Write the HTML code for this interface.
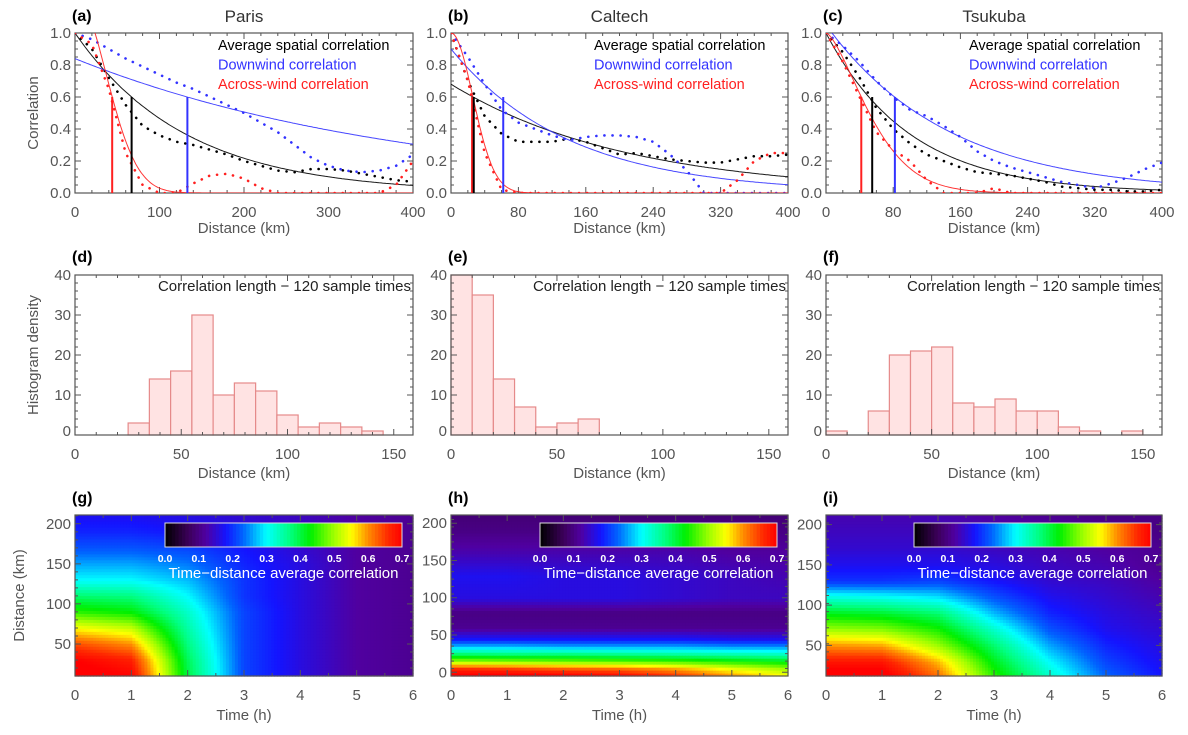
<!DOCTYPE html>
<html><head><meta charset="utf-8"><style>
body{margin:0;background:#fff}
svg{display:block;font-family:"Liberation Sans",sans-serif}
</style></head><body>
<svg id="fig" width="1188" height="735" viewBox="0 0 1188 735" xmlns="http://www.w3.org/2000/svg"></svg>
<script>
// ---------- DATA ----------
const cities = ["Paris","Caltech","Tsukuba"];
const corrDist = [0,20,40,60,80,100,120,140,160,180,200,220,240,260,280,300,320,340,360,380,400];
const avgDotParis  = [1.0,0.9,0.72,0.55,0.42,0.36,0.32,0.3,0.27,0.24,0.2,0.17,0.14,0.13,0.15,0.15,0.14,0.12,0.1,0.08,0.07];
const downDotParis = [1.0,0.96,0.9,0.84,0.79,0.74,0.69,0.65,0.6,0.55,0.5,0.44,0.38,0.3,0.22,0.17,0.14,0.13,0.14,0.17,0.24];
const acrDotParis  = [1.0,0.93,0.65,0.25,0.05,0.0,0.0,0.06,0.11,0.12,0.09,0.03,0,0,0,0,0,0,0,0.05,0.2];
const avgDotCal  = [1.0,0.7,0.48,0.37,0.32,0.32,0.32,0.34,0.32,0.28,0.24,0.25,0.23,0.21,0.2,0.19,0.19,0.21,0.23,0.23,0.24];
const downDotCal = [1.0,0.85,0.68,0.52,0.44,0.4,0.36,0.33,0.35,0.36,0.36,0.35,0.32,0.24,0.14,0.0,0,0,0,0,0];
const acrDotCal  = [1.0,0.7,0.25,0.02,0,0,0,0,0,0,0,0,0,0,0,0,0,0.08,0.2,0.25,0.25];
const avgDotTsu  = [1.0,0.88,0.72,0.53,0.4,0.31,0.24,0.2,0.16,0.13,0.12,0.11,0.09,0.07,0.04,0.03,0.02,0.02,0.01,0.01,0.02];
const downDotTsu = [1.0,0.92,0.82,0.7,0.6,0.52,0.48,0.42,0.35,0.26,0.2,0.16,0.13,0.1,0.07,0.05,0.03,0.06,0.1,0.15,0.19];
const acrDotTsu  = [1.0,0.82,0.6,0.38,0.27,0.2,0.08,0.0,0,0,0.03,0,0,0,0,0,0,0,0,0,0];
// fit params: amplitude, length (km), power
const avgFit  = [[1.0,131,1],[0.68,210,1],[1.0,100,1]];
const downFit = [[0.84,395,1],[0.9,140,1],[1.05,146,1]];
const acrFit  = [[1.23,52,2],[1.0,36.4,2],[1.0,65.8,1.5]];
// correlation lengths (km): across, average, downwind
const corrLen = [[44,67,133],[25,27,62],[42,55,82]];
const corrXTicks = [[0,100,200,300,400],[0,80,160,240,320,400],[0,80,160,240,320,400]];
// histograms: bin starts (10km bins) and densities
const histStartParis = [25,35,45,55,65,75,85,95,105,115,125,135];
const histValParis   = [3,14,16,30,10,13,11,5,2,3,2,1];
const histStartCal = [0,10,20,30,40,50,60];
const histValCal   = [40,35,14,7,2,3,4];
const histStartTsu = [0,10,20,30,40,50,60,70,80,90,100,110,120,130,140];
const histValTsu   = [1,0,6,20,21,22,8,7,9,6,6,2,1,0,1];
// heatmaps: time (h) x distance (km)
const hmTimes = [0,1,2,3,4,5,6];
const hmDistParis = [10,30,50,70,90,110,130,150,170,190,211];
const hmParis = [
 [0.72,0.7,0.64,0.55,0.45,0.38,0.3,0.26,0.22,0.19,0.17],
 [0.7,0.67,0.6,0.52,0.43,0.37,0.3,0.26,0.22,0.19,0.17],
 [0.4,0.39,0.37,0.35,0.33,0.3,0.27,0.24,0.21,0.18,0.16],
 [0.21,0.21,0.21,0.21,0.21,0.2,0.2,0.19,0.18,0.16,0.15],
 [0.16,0.16,0.16,0.16,0.16,0.16,0.16,0.16,0.15,0.14,0.14],
 [0.12,0.12,0.12,0.12,0.12,0.12,0.12,0.12,0.12,0.12,0.12],
 [0.11,0.11,0.11,0.11,0.11,0.11,0.11,0.11,0.11,0.11,0.11]];
const hmDistCal = [-5,5,15,25,35,45,60,80,100,130,160,190,211];
const hmCal = [
 [0.72,0.66,0.5,0.38,0.27,0.18,0.11,0.1,0.16,0.17,0.13,0.1,0.09],
 [0.72,0.65,0.49,0.37,0.27,0.18,0.11,0.1,0.16,0.17,0.13,0.1,0.09],
 [0.71,0.63,0.48,0.37,0.26,0.18,0.11,0.1,0.16,0.16,0.13,0.1,0.09],
 [0.7,0.62,0.47,0.36,0.26,0.18,0.11,0.1,0.16,0.16,0.13,0.1,0.09],
 [0.66,0.59,0.46,0.35,0.26,0.18,0.11,0.1,0.15,0.15,0.13,0.1,0.09],
 [0.6,0.54,0.44,0.34,0.25,0.17,0.11,0.1,0.14,0.14,0.12,0.1,0.09],
 [0.55,0.5,0.42,0.33,0.25,0.17,0.11,0.1,0.14,0.13,0.12,0.1,0.09]];
const hmDistTsu = [12,30,50,70,90,110,130,150,170,190,212];
const hmTsu = [
 [0.72,0.68,0.6,0.5,0.42,0.32,0.2,0.17,0.15,0.14,0.13],
 [0.72,0.68,0.59,0.49,0.41,0.31,0.2,0.17,0.15,0.14,0.13],
 [0.62,0.58,0.5,0.44,0.38,0.29,0.21,0.17,0.15,0.14,0.13],
 [0.45,0.42,0.38,0.33,0.27,0.22,0.18,0.16,0.14,0.13,0.12],
 [0.33,0.3,0.26,0.22,0.19,0.17,0.15,0.14,0.13,0.12,0.11],
 [0.23,0.21,0.19,0.17,0.16,0.15,0.14,0.13,0.12,0.11,0.1],
 [0.18,0.17,0.16,0.15,0.14,0.13,0.12,0.11,0.11,0.1,0.1]];
const cbTicks = [0.0,0.1,0.2,0.3,0.4,0.5,0.6,0.7];

// ---------- HELPERS ----------
const NS="http://www.w3.org/2000/svg";
const svg=document.getElementById('fig');
function el(tag,attrs,parent){const e=document.createElementNS(NS,tag);for(const k in attrs)e.setAttribute(k,attrs[k]);(parent||svg).appendChild(e);return e;}
function txt(s,x,y,o,parent){const t=el('text',Object.assign({x:x,y:y,fill:'#555','font-size':15,'text-anchor':'middle'},o||{}),parent);t.textContent=s;return t;}
const colX=[[75,413],[451,788],[826,1162]];
const rows={r1:[33,193],r2:[275,435],r3:[515,676]};
function lin(d0,d1,p0,p1){return v=>p0+(v-d0)/(d1-d0)*(p1-p0);}
function frame(g,x0,x1,y0,y1,xt,xmin,xmax,yt,ymin,ymax,xminor,yminor){
  const sx=lin(xmin,xmax,x0,x1), sy=lin(ymin,ymax,y1,y0);
  let d='';
  xt.forEach(v=>{const x=sx(v);d+=`M${x},${y1}v-6M${x},${y0}v6`;});
  yt.forEach(v=>{const y=sy(v);d+=`M${x0},${y}h6M${x1},${y}h-6`;});
  if(xminor)for(let v=xmin;v<=xmax+1e-9;v+=xminor){const x=sx(v);d+=`M${x},${y1}v-3M${x},${y0}v3`;}
  if(yminor)for(let v=ymin;v<=ymax+1e-9;v+=yminor){const y=sy(v);d+=`M${x0},${y}h3M${x1},${y}h-3`;}
  const t=el('path',{d:d,stroke:'#555','stroke-width':1,fill:'none'},g);
  
  
  const b=el('rect',{x:x0,y:y0,width:x1-x0,height:y1-y0,fill:'none',stroke:'#555','stroke-width':1.2},g);
  
  
  return [sx,sy];
}
function fitVal(p,d){return p[0]*Math.exp(-Math.pow(d/p[1],p[2]));}
function lineFrom(xs,ys,sx,sy,clip){return xs.map((x,i)=>`${i?'L':'M'}${sx(x).toFixed(1)},${sy(Math.max(0,Math.min(clip,ys[i]))).toFixed(1)}`).join('');}
const letters=['a','b','c','d','e','f','g','h','i'];

// ---------- ROW 1 ----------
const dots=[[avgDotParis,downDotParis,acrDotParis],[avgDotCal,downDotCal,acrDotCal],[avgDotTsu,downDotTsu,acrDotTsu]];
for(let c=0;c<3;c++){
  const [x0,x1]=colX[c],[y0,y1]=rows.r1;
  const g=el('g',{});
  
  
  const [sx,sy]=frame(g,x0,x1,y0,y1,corrXTicks[c],0,400,[0,0.2,0.4,0.6,0.8,1.0],0,1.0,20,0.05);
  const l=txt('('+letters[c]+')',x0-3,21,{fill:'#000','font-weight':'bold','text-anchor':'start',"font-size":16},g);
  
  const tt=txt(cities[c],(x0+x1)/2,22,{fill:'#333','font-size':17},g);
  
  corrXTicks[c].forEach(v=>{const t=txt(String(v),sx(v),217,{},g);});
  [0,0.2,0.4,0.6,0.8,1.0].forEach(v=>{const t=txt(v.toFixed(1),x0-4,sy(v)+5,{'text-anchor':'end'},g);});
  const xl=txt('Distance (km)',(x0+x1)/2,233,{},g);
  const cols=['#000','#3333ff','#ff2020'];
  const fits=[avgFit[c],downFit[c],acrFit[c]];
  const names=['average','downwind','across-wind'];
  const cp=el('clipPath',{id:'cp'+c},g);el('rect',{x:x0,y:y0,width:x1-x0,height:y1-y0},cp);
  const inner=el('g',{'clip-path':`url(#cp${c})`},g);
  for(let s=0;s<3;s++){
    const fd=[],fv=[];for(let d=0;d<=400;d+=2){fd.push(d);fv.push(fitVal(fits[s],d));}
    const p=el('path',{d:lineFrom(fd,fv,sx,sy,1.1),stroke:cols[s],'stroke-width':1,fill:'none',opacity:0.9},inner);
    
    const q=el('path',{d:lineFrom(corrDist,dots[c][s],sx,sy,1.1),stroke:cols[s],'stroke-width':2.6,fill:'none','stroke-dasharray':'0.1 8','stroke-linecap':'round'},inner);
    
  }
  const vOrder=[2,0,1];
  corrLen[c].forEach((L,i)=>{const s=vOrder[i];const v=el('line',{x1:sx(L),x2:sx(L),y1:sy(0),y2:sy(0.6),stroke:cols[s],'stroke-width':2},inner);
    });
  [['Average spatial correlation','#000'],['Downwind correlation','#3333ff'],['Across-wind correlation','#ff2020']].forEach((e,i)=>{
    const t=txt(e[0],c==0?218:x0+143,50+i*19.5,{fill:e[1],'text-anchor':'start','font-size':14.5},g);
    });
  if(c==0){const yl=txt('Correlation',0,0,{transform:`translate(38,${(y0+y1)/2}) rotate(-90)`},g);}
}

// ---------- ROW 2 ----------
const hist=[[histStartParis,histValParis],[histStartCal,histValCal],[histStartTsu,histValTsu]];
for(let c=0;c<3;c++){
  const [x0,x1]=colX[c],[y0,y1]=rows.r2;
  const g=el('g',{});
  
  
  const sx=lin(0,160,x0,x1+2), sy=lin(0,40,y1,y0);
  const [bs,bv]=hist[c];
  bs.forEach((b,i)=>{const r=el('rect',{x:sx(b),y:sy(bv[i]),width:sx(b+10)-sx(b),height:sy(0)-sy(bv[i]),fill:'#ffe3e3',stroke:'#e58a8a','stroke-width':1.2},g);
    });
  frame(g,x0,x1,y0,y1,[0,50,100,150],0,(x1-x0)/(sx(1)-sx(0)),[0,10,20,30,40],0,40,10,2);
  const l=txt('('+letters[3+c]+')',x0-3,262,{fill:'#000','font-weight':'bold','text-anchor':'start','font-size':16},g);
  
  const t=txt('Correlation length \u2212 120 sample times',x1-2,291,{fill:'#222','text-anchor':'end','font-size':15},g);
  
  [0,50,100,150].forEach(v=>{const k=txt(String(v),sx(v),459,{},g);});
  [0,10,20,30,40].forEach(v=>{const k=txt(String(v),x0-4,Math.min(sy(v)+5,436),{'text-anchor':'end'},g);});
  const xl=txt('Distance (km)',(x0+x1)/2,478,{},g);
  if(c==0){const yl=txt('Histogram density',0,0,{transform:`translate(38,${(y0+y1)/2}) rotate(-90)`},g);}
}

// ---------- ROW 3 ----------
const cstops=[[0,[0,0,0]],[0.07,[60,0,90]],[0.12,[80,0,160]],[0.18,[20,20,255]],[0.23,[0,100,255]],[0.3,[0,255,255]],[0.37,[0,255,128]],[0.43,[0,240,0]],[0.5,[160,255,0]],[0.55,[255,255,0]],[0.6,[255,140,0]],[0.66,[255,40,0]],[0.7,[255,0,0]]];
function cmap(v){v=Math.max(0,Math.min(0.7,v));for(let i=1;i<cstops.length;i++){if(v<=cstops[i][0]){const [a,ca]=cstops[i-1],[b,cb]=cstops[i];const f=(v-a)/(b-a);return `rgb(${ca.map((x,k)=>Math.round(x+(cb[k]-x)*f)).join(',')})`;}}return 'rgb(255,0,0)';}
function interp(xs,x){if(x<=xs[0])return [0,0];for(let i=1;i<xs.length;i++)if(x<=xs[i])return [i-1,(x-xs[i-1])/(xs[i]-xs[i-1])];return [xs.length-2,1];}
const hms=[[hmDistParis,hmParis,[10,211]],[hmDistCal,hmCal,[-5,211]],[hmDistTsu,hmTsu,[12,212]]];
const yTicksHm=[[50,100,150,200],[0,50,100,150,200],[50,100,150,200]];
for(let c=0;c<3;c++){
  const [x0,x1]=colX[c],[y0,y1]=rows.r3;
  const g=el('g',{});
  
  
  const [dists,grid,dr]=hms[c];
  const sx=lin(0,6,x0,x1), sy=lin(dr[0],dr[1],y1,y0);
  const NX=112,NY=54;
  for(let i=0;i<NX;i++)for(let j=0;j<NY;j++){
    const t=(i+0.5)/NX*6, d=dr[0]+(j+0.5)/NY*(dr[1]-dr[0]);
    const [ti,tf]=interp(hmTimes,t),[di,df]=interp(dists,d);
    const v=(grid[ti][di]*(1-df)+grid[ti][di+1]*df)*(1-tf)+(grid[ti+1][di]*(1-df)+grid[ti+1][di+1]*df)*tf;
    const xa=sx(i/NX*6),xb=sx((i+1)/NX*6),ya=sy(dr[0]+(j+1)/NY*(dr[1]-dr[0])),yb=sy(dr[0]+j/NY*(dr[1]-dr[0]));
    const r=el('rect',{x:xa.toFixed(2),y:ya.toFixed(2),width:(xb-xa+0.6).toFixed(2),height:(yb-ya+0.6).toFixed(2),fill:cmap(v)},g);
    
    
  }
  frame(g,x0,x1,y0,y1,[0,1,2,3,4,5,6],0,6,yTicksHm[c],dr[0],dr[1],0.5,10);
  const l=txt('('+letters[6+c]+')',x0-3,503,{fill:'#000','font-weight':'bold','text-anchor':'start','font-size':16},g);
  
  [0,1,2,3,4,5,6].forEach(v=>{const k=txt(String(v),sx(v),700,{},g);});
  yTicksHm[c].forEach(v=>{const k=txt(String(v),x0-4,sy(v)+5,{'text-anchor':'end'},g);});
  const xl=txt('Time (h)',(x0+x1)/2,720,{},g);
  if(c==0){const yl=txt('Distance (km)',0,0,{transform:`translate(24,${(y0+y1)/2}) rotate(-90)`},g);}
  const cbx0=x1-248,cbx1=x1-11,cby0=523,cby1=547;
  const cb=el('g',{},g);
  
  const cs=lin(0,0.7,cbx0,cbx1);
  for(let k=0;k<70;k++){const r=el('rect',{x:cs(k/100).toFixed(2),y:cby0,width:(cs(0.01)-cs(0)+0.5).toFixed(2),height:cby1-cby0,fill:cmap((k+0.5)/100)},cb);
    }
  el('rect',{x:cbx0,y:cby0,width:cbx1-cbx0,height:cby1-cby0,fill:'none',stroke:'#ddd','stroke-width':1},cb);
  cbTicks.forEach(v=>{const k=txt(v.toFixed(1),cs(v),562,{fill:'#fff','font-size':10.5,'font-weight':'bold'},cb);});
  const ct=txt('Time\u2212distance average correlation',(cbx0+cbx1)/2,578,{fill:'#fff','font-size':15},cb);
  
}
</script>
</body></html>
